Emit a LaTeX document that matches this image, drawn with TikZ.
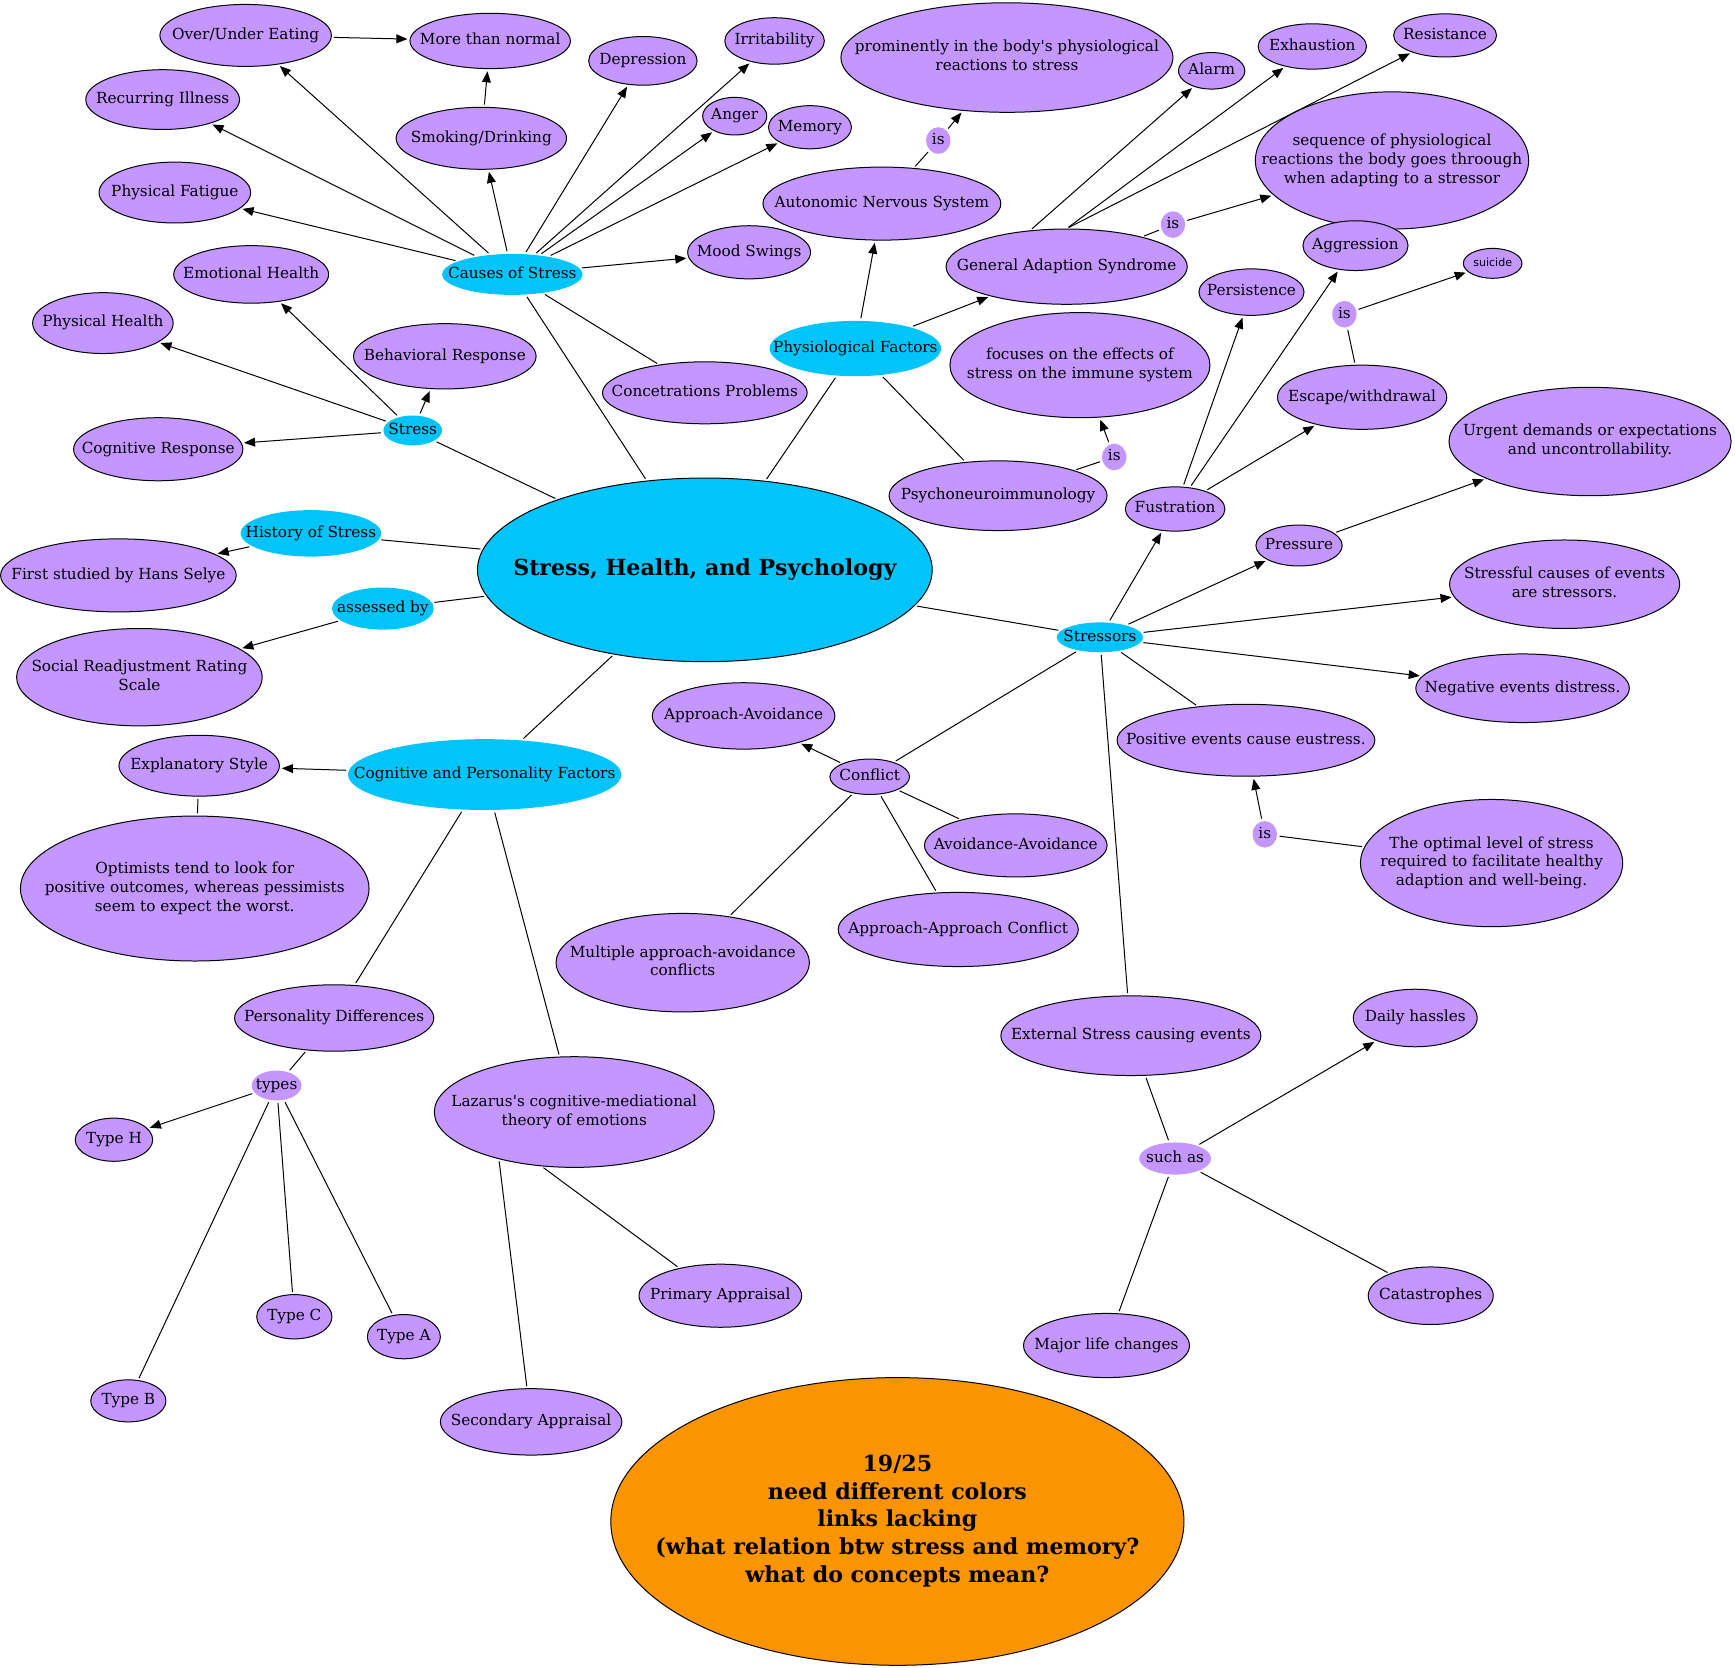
\documentclass[tikz,border=0pt]{standalone}
\usepackage{fontspec}
\setmainfont{DejaVu Serif}
\newfontfamily\smallsans{DejaVu Sans}
\usetikzlibrary{shapes.geometric,arrows.meta}
\definecolor{mapBlue}{RGB}{0,196,250}
\definecolor{mapPurple}{RGB}{196,150,255}
\definecolor{mapOrange}{RGB}{250,148,0}
\newcommand{\ovaltext}[1]{\makebox[0pt]{\begin{tabular}{@{}c@{}}#1\end{tabular}}}

\begin{document}
\begin{tikzpicture}[x=1pt,y=-1pt,line width=0.9pt,
    every node/.style={font=\fontsize{13.8}{17}\selectfont},
    sz/.style 2 args={minimum width=#1pt,minimum height=#2pt},
    concept/.style={ellipse,draw=black,fill=mapPurple,inner sep=0pt},
    hub/.style={ellipse,fill=mapBlue,inner sep=0pt},
    linker/.style={ellipse,fill=mapPurple,inner sep=0pt},
    arrowed/.style={-{Triangle[length=10pt,width=8pt]},shorten >=2pt,shorten <=2pt},
    joined/.style={shorten >=2pt,shorten <=2pt}]
        \useasboundingbox (0,0) rectangle (1568,1507);
        % top rows
        \node[concept,sz={155}{56}] (oue) at (222,32) {\ovaltext{Over/Under Eating}};
        \node[concept,sz={145}{50}] (mtn) at (443,37) {\ovaltext{More than normal}};
        \node[concept,sz={98}{44}] (dep) at (581,55) {\ovaltext{Depression}};
        \node[concept,sz={90}{42}] (irr) at (700,37) {\ovaltext{Irritability}};
        \node[concept,sz={300}{99}] (prom) at (910,52) {\ovaltext{prominently in the body\textquotesingle s physiological\\reactions to stress}};
        \node[concept,sz={60}{33}] (alarm) at (1095,64) {\ovaltext{Alarm}};
        \node[concept,sz={98}{41}] (exh) at (1186,42) {\ovaltext{Exhaustion}};
        \node[concept,sz={93}{39}] (res) at (1306,32) {\ovaltext{Resistance}};
        \node[concept,sz={139}{54}] (ill) at (147,90) {\ovaltext{Recurring Illness}};
        \node[concept,sz={154}{56}] (smo) at (435,125) {\ovaltext{Smoking/Drinking}};
        \node[concept,sz={58}{34}] (anger) at (664,105) {\ovaltext{Anger}};
        \node[concept,sz={75}{39}] (mem) at (732,115) {\ovaltext{Memory}};
        \node[linker,sz={22}{19}] (isans) at (848,127) {\ovaltext{is}};
        \node[concept,sz={215}{66}] (ans) at (797,184) {\ovaltext{Autonomic Nervous System}};
        \node[concept,sz={247}{124}] (seq) at (1258,145) {\ovaltext{sequence of physiological\\reactions the body goes throough\\when adapting to a stressor}};
        \node[linker,sz={22}{19}] (isgas) at (1060,203) {\ovaltext{is}};
        \node[concept,sz={137}{55}] (fat) at (158,174) {\ovaltext{Physical Fatigue}};
        \node[hub,sz={127}{37}] (cos) at (463,248) {\ovaltext{Causes of Stress}};
        \node[concept,sz={111}{48}] (mood) at (677,228) {\ovaltext{Mood Swings}};
        \node[concept,sz={218}{68}] (gas) at (964,241) {\ovaltext{General Adaption Syndrome}};
        \node[concept,sz={95}{45}] (agg) at (1225,222) {\ovaltext{Aggression}};
        \node[concept,sz={53}{27},font=\smallsans\fontsize{10}{12}\selectfont] (sui) at (1349,238) {\ovaltext{suicide}};
        \node[concept,sz={140}{52}] (emo) at (227,248) {\ovaltext{Emotional Health}};
        \node[concept,sz={95}{42}] (per) at (1131,264) {\ovaltext{Persistence}};
        \node[linker,sz={22}{19}] (issui) at (1215,284) {\ovaltext{is}};
        \node[concept,sz={127}{55}] (phy) at (93,292) {\ovaltext{Physical Health}};
        \node[concept,sz={165}{59}] (beh) at (402,322) {\ovaltext{Behavioral Response}};
        \node[hub,sz={155}{50}] (pf) at (773,315) {\ovaltext{Physiological Factors}};
        \node[concept,sz={235}{95}] (foc) at (976,330) {\ovaltext{focuses on the effects of\\stress on the immune system}};
        \node[concept,sz={185}{56}] (conc) at (637,355) {\ovaltext{Concetrations Problems}};
        \node[concept,sz={153}{58}] (esc) at (1231,359) {\ovaltext{Escape/withdrawal}};
        \node[hub,sz={53}{27}] (stress) at (373,389) {\ovaltext{Stress}};
        \node[concept,sz={153}{57}] (cog) at (143,406) {\ovaltext{Cognitive Response}};
        \node[concept,sz={255}{98}] (urg) at (1437,399) {\ovaltext{Urgent demands or expectations\\and uncontrollability.}};
        \node[linker,sz={22}{19}] (ispni) at (1007,413) {\ovaltext{is}};
        \node[concept,sz={197}{63}] (pni) at (902,448) {\ovaltext{Psychoneuroimmunology}};
        \node[concept,sz={90}{40}] (fus) at (1062,460) {\ovaltext{Fustration}};
        % middle
        \node[hub,sz={127}{42}] (hist) at (281,482) {\ovaltext{History of Stress}};
        \node[hub,draw=black,sz={411}{166},font=\bfseries\fontsize{20}{24}\selectfont] (main) at (637,515) {\ovaltext{Stress, Health, and Psychology}};
        \node[concept,sz={213}{66}] (selye) at (107,520) {\ovaltext{First studied by Hans Selye}};
        \node[concept,sz={78}{37}] (pres) at (1174,493) {\ovaltext{Pressure}};
        \node[concept,sz={208}{80}] (sce) at (1414,528) {\ovaltext{Stressful causes of events\\are stressors.}};
        \node[hub,sz={92}{38}] (ass) at (346,550) {\ovaltext{assessed by}};
        \node[concept,sz={222}{88}] (srrs) at (126,612) {\ovaltext{Social Readjustment Rating\\Scale}};
        \node[hub,sz={78}{27}] (sts) at (994,576) {\ovaltext{Stressors}};
        \node[concept,sz={193}{62}] (neg) at (1376,622) {\ovaltext{Negative events distress.}};
        \node[concept,sz={165}{60}] (appav) at (672,647) {\ovaltext{Approach-Avoidance}};
        \node[concept,sz={233}{65}] (pos) at (1126,669) {\ovaltext{Positive events cause eustress.}};
        \node[concept,sz={145}{55}] (expl) at (180,692) {\ovaltext{Explanatory Style}};
        \node[hub,sz={247}{64}] (cpf) at (438,700) {\ovaltext{Cognitive and Personality Factors}};
        \node[concept,sz={72}{32}] (conf) at (786,702) {\ovaltext{Conflict}};
        \node[concept,sz={165}{57}] (avav) at (918,764) {\ovaltext{Avoidance-Avoidance}};
        \node[linker,sz={22}{19}] (isopt) at (1143,754) {\ovaltext{is}};
        \node[concept,sz={237}{115}] (opt) at (1348,780) {\ovaltext{The optimal level of stress\\required to facilitate healthy\\adaption and well-being.}};
        \node[concept,sz={315}{131}] (optim) at (176,803) {\ovaltext{Optimists tend to look for\\positive outcomes, whereas pessimists\\seem to expect the worst.}};
        \node[concept,sz={217}{67}] (apap) at (866,840) {\ovaltext{Approach-Approach Conflict}};
        \node[concept,sz={229}{89}] (mult) at (617,870) {\ovaltext{Multiple approach-avoidance\\conflicts}};
        % bottom
        \node[concept,sz={180}{60}] (pd) at (302,920) {\ovaltext{Personality Differences}};
        \node[concept,sz={235}{72}] (ext) at (1022,936) {\ovaltext{External Stress causing events}};
        \node[concept,sz={112}{52}] (daily) at (1279,920) {\ovaltext{Daily hassles}};
        \node[linker,sz={45}{27}] (types) at (250,981) {\ovaltext{types}};
        \node[concept,sz={253}{100}] (laz) at (519,1005) {\ovaltext{Lazarus\textquotesingle s cognitive-mediational\\theory of emotions}};
        \node[concept,sz={70}{39}] (th) at (103,1030) {\ovaltext{Type H}};
        \node[linker,sz={65}{29}] (such) at (1062,1047) {\ovaltext{such as}};
        \node[concept,sz={147}{57}] (prim) at (651,1171) {\ovaltext{Primary Appraisal}};
        \node[concept,sz={113}{52}] (cat) at (1293,1171) {\ovaltext{Catastrophes}};
        \node[concept,sz={68}{40}] (tc) at (266,1190) {\ovaltext{Type C}};
        \node[concept,sz={66}{40}] (ta) at (365,1208) {\ovaltext{Type A}};
        \node[concept,sz={150}{58}] (major) at (1000,1216) {\ovaltext{Major life changes}};
        \node[concept,sz={68}{38}] (tb) at (116,1266) {\ovaltext{Type B}};
        \node[concept,sz={164}{60}] (sec) at (480,1285) {\ovaltext{Secondary Appraisal}};
        \node[ellipse,draw=black,fill=mapOrange,inner sep=0pt,sz={518}{260},font=\bfseries\fontsize{20}{25}\selectfont] (note) at (811,1375) {\ovaltext{19/25\\need different colors\\links lacking\\(what relation btw stress and memory?\\what do concepts mean?}};
        % causes of stress
        \foreach \t in {oue,ill,fat,smo,dep,irr,anger,mem,mood} \draw[arrowed] (cos) -- (\t);
        \draw[joined] (cos) -- (conc);
        \draw[joined] (main) -- (cos);
        \draw[arrowed] (oue) -- (mtn);
        \draw[arrowed] (smo) -- (mtn);
        % stress
        \foreach \t in {emo,phy,beh,cog} \draw[arrowed] (stress) -- (\t);
        \draw[joined] (main) -- (stress);
        \draw[joined] (main) -- (hist);
        \draw[arrowed] (hist) -- (selye);
        \draw[joined] (main) -- (ass);
        \draw[arrowed] (ass) -- (srrs);
        % cognitive and personality
        \draw[joined] (main) -- (cpf);
        \draw[arrowed] (cpf) -- (expl);
        \draw[joined] (expl) -- (optim);
        \draw[joined] (cpf) -- (pd);
        \draw[joined] (cpf) -- (laz);
        \draw[joined] (pd) -- (types);
        \draw[arrowed] (types) -- (th);
        \foreach \t in {tc,ta,tb} \draw[joined] (types) -- (\t);
        \draw[joined] (laz.239) -- (prim.146);
        \draw[joined] (laz.212) -- (sec);
        % physiological
        \draw[joined] (main) -- (pf);
        \draw[arrowed] (pf) -- (ans);
        \draw[arrowed] (pf) -- (gas);
        \draw[joined] (pf) -- (pni);
        \draw[joined] (ans) -- (isans);
        \draw[arrowed] (isans) -- (prom);
        \draw[arrowed] (gas.135) -- (alarm);
        \draw[arrowed] (gas.north) -- (exh);
        \draw[arrowed] (gas.north) -- (res);
        \draw[joined] (gas) -- (isgas);
        \draw[arrowed] (isgas) -- (seq);
        \draw[joined] (pni) -- (ispni);
        \draw[arrowed] (ispni) -- (foc);
        % stressors
        \draw[joined] (main) -- (sts);
        \foreach \t in {fus,pres,sce,neg} \draw[arrowed] (sts) -- (\t);
        \draw[joined] (sts) -- (pos);
        \draw[joined] (sts) -- (conf);
        \draw[joined] (sts) -- (ext);
        \foreach \t in {per,agg,esc} \draw[arrowed] (fus) -- (\t);
        \draw[joined] (esc) -- (issui);
        \draw[arrowed] (issui) -- (sui);
        \draw[arrowed] (pres) -- (urg);
        \draw[joined] (opt) -- (isopt);
        \draw[arrowed] (isopt) -- (pos);
        \draw[arrowed] (conf) -- (appav);
        \foreach \t in {avav,apap,mult} \draw[joined] (conf) -- (\t);
        \draw[joined] (ext) -- (such);
        \draw[arrowed] (such) -- (daily);
        \draw[joined] (such) -- (cat);
        \draw[joined] (such) -- (major);
    \end{tikzpicture}
\end{document}
